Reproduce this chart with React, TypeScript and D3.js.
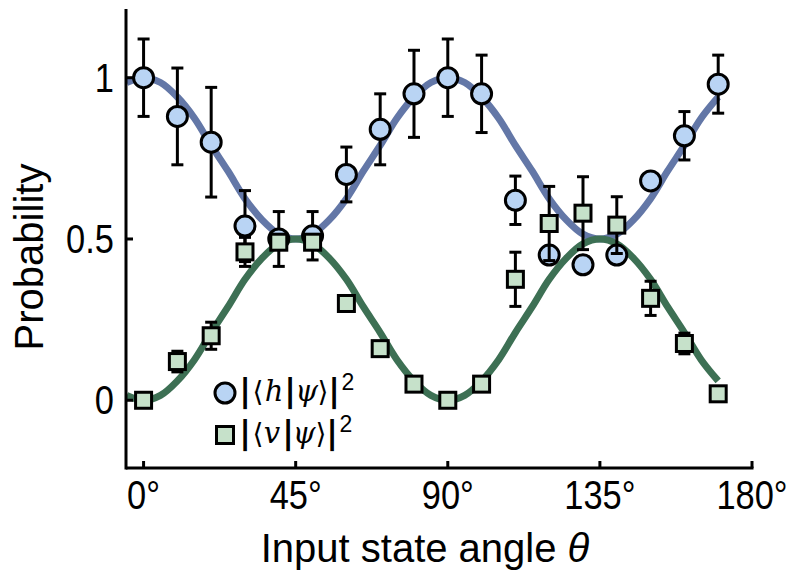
import React from "react";
import * as d3 from "d3";

// measured points, every 10 degrees
const angles = [0, 10, 20, 30, 40, 50, 60, 70, 80, 90, 100, 110, 120, 130, 140, 150, 160, 170];
const hProb = [1.0, 0.88, 0.8, 0.54, 0.5, 0.51, 0.7, 0.84, 0.95, 1.0, 0.95, 0.62, 0.45, 0.42, 0.45, 0.68, 0.82, 0.98];
const hErr = [0.12, 0.15, 0.17, 0.11, 0.085, 0.075, 0.085, 0.11, 0.135, 0.12, 0.12, 0.075, 0.02, 0.02, 0.02, 0.02, 0.075, 0.09];
const vProb = [0.0, 0.12, 0.2, 0.46, 0.49, 0.49, 0.3, 0.16, 0.05, 0.0, 0.05, 0.375, 0.548, 0.58, 0.543, 0.316, 0.176, 0.02];
const vErr = [0.0, 0.032, 0.042, 0.045, 0.02, 0.02, 0.0, 0.0, 0.0, 0.0, 0.0, 0.084, 0.115, 0.113, 0.088, 0.053, 0.032, 0.0];

// theory curves, every 5 degrees
const curveAngles = [-5, 0, 5, 10, 15, 20, 25, 30, 35, 40, 45, 50, 55, 60, 65, 70, 75, 80, 85, 90,
  95, 100, 105, 110, 115, 120, 125, 130, 135, 140, 145, 150, 155, 160, 165, 170];
const hCurve = [0.985, 1.0, 0.985, 0.94, 0.875, 0.79, 0.71, 0.625, 0.56, 0.515, 0.5, 0.515, 0.56, 0.625, 0.71, 0.79, 0.875, 0.94, 0.985, 1.0,
  0.985, 0.94, 0.875, 0.79, 0.71, 0.625, 0.56, 0.515, 0.5, 0.515, 0.56, 0.625, 0.71, 0.79, 0.875, 0.94];
const vCurve = [0.015, 0.0, 0.015, 0.06, 0.125, 0.21, 0.29, 0.375, 0.44, 0.485, 0.5, 0.485, 0.44, 0.375, 0.29, 0.21, 0.125, 0.06, 0.015, 0.0,
  0.015, 0.06, 0.125, 0.21, 0.29, 0.375, 0.44, 0.485, 0.5, 0.485, 0.44, 0.375, 0.29, 0.21, 0.125, 0.06];

const xTicks = [0, 45, 90, 135, 180];
const xTickLabels = ["0°", "45°", "90°", "135°", "180°"];
const yTicks = [0, 0.5, 1];
const yTickLabels = ["0", "0.5", "1"];

const W = 795;
const H = 571;
const blueLine = "#6377a7";
const greenLine = "#3d7054";
const blueFill = "#b9d4f4";
const greenFill = "#c6e1ca";
const sans = "'Liberation Sans', Arial, sans-serif";
const dejavu = "'DejaVu Sans', sans-serif";
const serif = "'DejaVu Serif', serif";

const x = d3.scaleLinear().domain([-5.2, 180]).range([126, 752]);
const y = d3.scaleLinear().domain([-0.21, 1.213]).range([468, 9]);

const line = d3
  .line<[number, number]>()
  .x((d) => x(d[0]))
  .y((d) => y(d[1]))
  .curve(d3.curveCatmullRom.alpha(0.5));

const ErrorBars = ({ vals, errs }: { vals: number[]; errs: number[] }) => (
  <g stroke="#000" strokeWidth={3} fill="none">
    {angles.map((a, i) =>
      errs[i] > 0 ? (
        <g key={i}>
          <line x1={x(a)} x2={x(a)} y1={y(vals[i] - errs[i])} y2={y(vals[i] + errs[i])} />
          <line x1={x(a) - 6} x2={x(a) + 6} y1={y(vals[i] + errs[i])} y2={y(vals[i] + errs[i])} />
          <line x1={x(a) - 6} x2={x(a) + 6} y1={y(vals[i] - errs[i])} y2={y(vals[i] - errs[i])} />
        </g>
      ) : null
    )}
  </g>
);

// |<letter|psi>|^2 as one text element
const Ket = ({ letter, cy, xs }: { letter: string; cy: number; xs: number[] }) => (
  <text y={cy} textAnchor="middle" fill="#000">
    <tspan x={xs[0]} fontFamily={dejavu} fontWeight="bold" fontSize={32}>|</tspan>
    <tspan x={xs[1]} fontFamily={dejavu} fontSize={28}>⟨</tspan>
    <tspan x={xs[2]} fontFamily={serif} fontStyle="italic" fontSize={29}>{letter}</tspan>
    <tspan x={xs[3]} fontFamily={dejavu} fontWeight="bold" fontSize={32}>|</tspan>
    <tspan x={xs[4]} fontFamily={serif} fontStyle="italic" fontSize={29}>ψ</tspan>
    <tspan x={xs[5]} fontFamily={dejavu} fontSize={28}>⟩</tspan>
    <tspan x={xs[6]} fontFamily={dejavu} fontWeight="bold" fontSize={32}>|</tspan>
    <tspan x={xs[7]} dy={-11} fontFamily={sans} fontSize={23}>2</tspan>
  </text>
);

export default function App() {
  const hPts = curveAngles.map((a, i) => [a, hCurve[i]] as [number, number]);
  const vPts = curveAngles.map((a, i) => [a, vCurve[i]] as [number, number]);

  return (
    <svg width={W} height={H} style={{ position: "absolute", left: 0, top: 0, background: "#fff" }}>
      {/* theory curves */}
      <path d={line(hPts) ?? ""} fill="none" stroke={blueLine} strokeWidth={7} />
      <path d={line(vPts) ?? ""} fill="none" stroke={greenLine} strokeWidth={7} />

      {/* axes */}
      <g stroke="#000" strokeWidth={3}>
        <line x1={x(-5.2)} x2={x(-5.2)} y1={y(1.213)} y2={y(-0.21) + 1.5} />
        <line x1={x(-5.2)} x2={x(180) + 1.5} y1={y(-0.21)} y2={y(-0.21)} />
        {xTicks.map((t) => (
          <line key={t} x1={x(t)} x2={x(t)} y1={y(-0.21)} y2={y(-0.21) - 7} />
        ))}
        {yTicks.map((t) => (
          <line key={t} x1={x(-5.2)} x2={x(-5.2) + 7} y1={y(t)} y2={y(t)} />
        ))}
      </g>
      <g fontFamily={sans} fontSize={41} fill="#000">
        {xTicks.map((t, i) => (
          <text key={t} transform={`translate(${x(t)}, 509) scale(0.84, 1)`} textAnchor="middle">
            {xTickLabels[i]}
          </text>
        ))}
        {yTicks.map((t, i) => (
          <text key={t} transform={`translate(114, ${y(t) + 14}) scale(0.84, 1)`} textAnchor="end">
            {yTickLabels[i]}
          </text>
        ))}
      </g>
      <text x={425} y={562} fontFamily={sans} fontSize={40} textAnchor="middle">
        Input state angle <tspan fontStyle="italic">θ</tspan>
      </text>
      <text transform={`translate(43, 257) rotate(-90)`} fontFamily={sans} fontSize={40} textAnchor="middle">
        Probability
      </text>

      {/* data */}
      <ErrorBars vals={hProb} errs={hErr} />
      <g fill={blueFill} stroke="#000" strokeWidth={3}>
        {angles.map((a, i) => (
          <circle key={i} cx={x(a)} cy={y(hProb[i])} r={10} />
        ))}
      </g>
      <ErrorBars vals={vProb} errs={vErr} />
      <g fill={greenFill} stroke="#000" strokeWidth={3}>
        {angles.map((a, i) => (
          <rect key={i} x={x(a) - 8} y={y(vProb[i]) - 8} width={16} height={16} />
        ))}
      </g>

      {/* legend */}
      <circle cx={225} cy={393} r={10} fill={blueFill} stroke="#000" strokeWidth={3} />
      <rect x={216.5} y={426.5} width={17} height={17} fill={greenFill} stroke="#000" strokeWidth={3} />
      <Ket letter="h" cy={401} xs={[245, 258, 274, 290, 306.5, 323, 334, 348]} />
      <Ket letter="v" cy={443} xs={[245, 258, 272, 288, 304, 321, 332, 346]} />
    </svg>
  );
}
